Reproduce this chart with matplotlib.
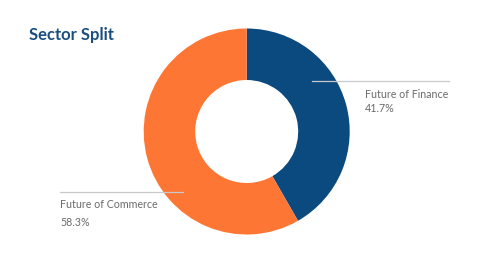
import matplotlib
matplotlib.use("Agg")
import matplotlib.pyplot as plt

title = "Sector Split"
categories = ["Future of Finance", "Future of Commerce"]
values = [41.7, 58.3]
colors = ["#0B4A7F", "#FE7634"]

plt.rcParams['font.family'] = ['Lato', 'DejaVu Sans']

W, H = 500, 262
fig = plt.figure(figsize=(W/100, H/100), dpi=100)
ax = fig.add_axes([0, 0, 1, 1])

cx, cy, r = 246.7, H - 131.5, 103
ax.pie(values, colors=colors, startangle=90, counterclock=False,
       center=(cx, cy), radius=r, frame=True,
       wedgeprops=dict(width=r * 0.5, linewidth=0))
ax.set_xlim(0, W)
ax.set_ylim(0, H)
ax.set_aspect('equal')
ax.axis('off')

# Title
ax.text(29, H - 35, title, fontsize=12, fontweight='bold', color='#1B4F80',
        ha='left', va='center')

# Annotations
line_c = '#C9C9C9'
text_c = '#6A6A6A'
fs = 7.7
# Finance
ax.plot([312, 449], [H - 81, H - 81], color=line_c, lw=0.9)
ax.text(365, H - 94, categories[0], fontsize=fs, color=text_c, ha='left', va='center')
ax.text(365, H - 109, f"{values[0]}%", fontsize=fs, color=text_c, ha='left', va='center')
# Commerce
ax.plot([60, 183], [H - 192, H - 192], color=line_c, lw=0.9)
ax.text(60, H - 205, categories[1], fontsize=fs, color=text_c, ha='left', va='center')
ax.text(60, H - 223, f"{values[1]}%", fontsize=fs, color=text_c, ha='left', va='center')

fig.savefig("out.png", dpi=100, facecolor='white')
